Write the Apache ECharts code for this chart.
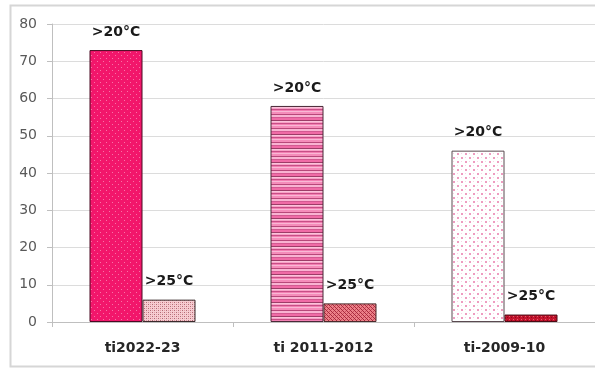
<!DOCTYPE html>
<html>
<head>
<meta charset="utf-8">
<script src="https://cdn.jsdelivr.net/npm/echarts@6/dist/echarts.min.js"></script>
<style>
  html, body { margin: 0; padding: 0; background: #ffffff; }
  #chart { width: 595px; height: 374px; }
</style>
</head>
<body>
<div id="chart"></div>
<script>
// Periods compared and the number of days above each temperature threshold
const categories = ['ti2022-23', 'ti 2011-2012', 'ti-2009-10'];
const over20 = [73, 58, 46];
const over25 = [6, 5, 2];
const seriesNames = ['>20°C', '>25°C'];
const yTicks = { min: 0, max: 80, step: 10 };

// Small tiled canvas fills used as bar textures
function makeTile(w, h, draw) {
  const c = document.createElement('canvas');
  c.width = w; c.height = h;
  const g = c.getContext('2d');
  draw(g, w, h);
  return { image: c, repeat: 'repeat' };
}
function px(g, x, y, col) { g.fillStyle = col; g.fillRect(x, y, 1, 1); }

// solid magenta with faint white dots
const magentaDots = makeTile(6, 6, (g, w, h) => {
  g.fillStyle = '#F2166B'; g.fillRect(0, 0, w, h);
  px(g, 1, 1, 'rgba(255,255,255,0.4)');
  px(g, 4, 4, 'rgba(255,255,255,0.4)');
});
// pale pink with a dark fine check
const paleCheck = makeTile(4, 4, (g, w, h) => {
  g.fillStyle = '#F6CDD2'; g.fillRect(0, 0, w, h);
  px(g, 0, 0, '#B06A74'); px(g, 2, 2, '#B06A74');
  px(g, 2, 0, '#E39AA4'); px(g, 0, 2, '#E39AA4');
});
// horizontal pink stripes
const pinkStripes = makeTile(1, 14, (g) => {
  const rows = ['#F58CBA', '#F58CBA', '#B8487A', '#F9B3D2', '#F9B3D2', '#D45A92',
                '#F06BA6', '#F06BA6', '#9E3C68', '#FBC3DB', '#F7A0C6', '#C84E86',
                '#F27FB2', '#F9B8D5'];
  rows.forEach((c, i) => px(g, 0, i, c));
});
// salmon with dark cross-hatch
const salmonHatch = makeTile(4, 4, (g, w, h) => {
  g.fillStyle = '#EC8088'; g.fillRect(0, 0, w, h);
  px(g, 0, 0, '#A8283C'); px(g, 1, 1, '#A8283C');
  px(g, 2, 2, '#A8283C'); px(g, 3, 3, '#A8283C');
  px(g, 3, 1, '#C8505E'); px(g, 1, 3, '#C8505E');
});
// white with pink dots
const whiteDots = makeTile(8, 8, (g, w, h) => {
  g.fillStyle = '#FFFFFF'; g.fillRect(0, 0, w, h);
  g.fillStyle = '#EE9CC0';
  g.fillRect(1, 1, 2, 2);
  g.fillRect(5, 5, 2, 2);
  px(g, 5, 1, '#F8D4E4'); px(g, 1, 5, '#F8D4E4');
});
// dark red with small light flecks
const darkRed = makeTile(4, 3, (g, w, h) => {
  g.fillStyle = '#C4122C'; g.fillRect(0, 0, w, h);
  px(g, 1, 1, '#E0606E'); px(g, 3, 2, '#8A0A1C');
});

const fills20 = [magentaDots, pinkStripes, whiteDots];
const fills25 = [paleCheck, salmonHatch, darkRed];
const borders20 = ['#4A0A22', '#4A2A38', '#5A4A50'];
const borders25 = ['#3A2A2C', '#4A2A2C', '#4A0A14'];

const labelFont = {
  fontFamily: 'DejaVu Sans',
  fontWeight: 'bold',
  fontSize: 14,
  color: '#1A1A1A'
};

function build(values, name, fills, borders) {
  return {
    name: name,
    type: 'bar',
    barWidth: 53,
    barGap: '0%',
    data: values.map((v, i) => ({
      value: v,
      itemStyle: { color: fills[i], borderColor: borders[i], borderWidth: 1 }
    })),
    label: Object.assign({
      show: true,
      position: 'top',
      distance: 11,
      formatter: name
    }, labelFont)
  };
}

const chart = echarts.init(document.getElementById('chart'), null, { renderer: 'canvas' });
chart.setOption({
  backgroundColor: '#ffffff',
  animation: false,
  graphic: [{
    type: 'rect',
    shape: { x: 10.5, y: 5.5, width: 600, height: 361 },
    style: { fill: 'none', stroke: '#D6D6D6', lineWidth: 2 },
    z: -1
  }],
  grid: { left: 52, right: -4, top: 24, bottom: 52, containLabel: false },
  xAxis: {
    type: 'category',
    data: categories,
    axisLine: { lineStyle: { color: '#BFBFBF', width: 1 } },
    axisTick: { show: true, length: 5, lineStyle: { color: '#BFBFBF' } },
    axisLabel: {
      margin: 19,
      fontFamily: 'DejaVu Sans',
      fontWeight: 'bold',
      fontSize: 14,
      color: '#262626'
    }
  },
  yAxis: {
    type: 'value',
    min: yTicks.min,
    max: yTicks.max,
    interval: yTicks.step,
    axisLine: { show: true, lineStyle: { color: '#BFBFBF' } },
    axisTick: { show: true, length: 5, lineStyle: { color: '#BFBFBF' } },
    splitLine: { lineStyle: { color: '#DCDCDC' } },
    axisLabel: {
      margin: 15,
      fontFamily: 'DejaVu Sans',
      fontSize: 14,
      color: '#595959'
    }
  },
  series: [
    build(over20, seriesNames[0], fills20, borders20),
    build(over25, seriesNames[1], fills25, borders25)
  ]
});
</script>
</body>
</html>
